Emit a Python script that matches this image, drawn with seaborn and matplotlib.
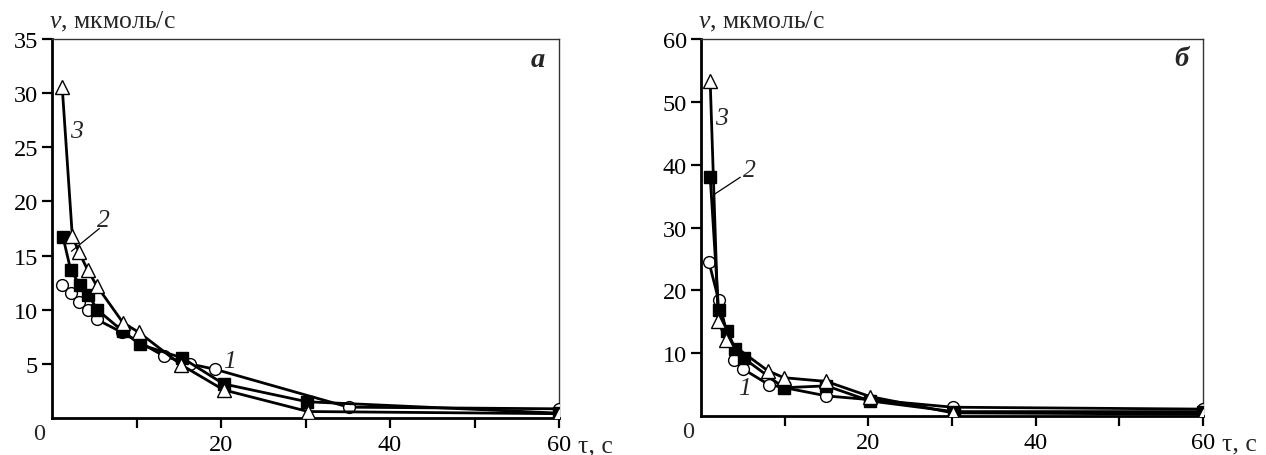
import matplotlib
matplotlib.use("Agg")
import matplotlib.pyplot as plt
import seaborn as sns
import numpy as np

sns.set_theme(style="white")
plt.rcParams["font.family"] = ["Liberation Serif", "DejaVu Serif"]
plt.rcParams["mathtext.fontset"] = "custom"
plt.rcParams["mathtext.rm"] = "Liberation Serif"
plt.rcParams["mathtext.it"] = "Liberation Serif:italic"

# ---- Panel а ----
a_t1 = [1.2, 2.2, 3.2, 4.2, 5.3, 8.3, 13.3, 16.3, 19.3, 35.1, 60]
a_v1 = [12.25, 11.5, 10.7, 10.0, 9.1, 7.9, 5.7, 5.0, 4.5, 1.0, 0.85]
a_t2 = [1.3, 2.2, 3.3, 4.3, 5.35, 8.4, 10.4, 15.4, 20.3, 30.2, 60]
a_v2 = [16.7, 13.7, 12.25, 11.4, 10.0, 8.0, 6.8, 5.55, 3.15, 1.5, 0.45]
a_t3 = [1.2, 2.4, 3.2, 4.2, 5.3, 8.4, 10.3, 15.3, 20.3, 30.3, 60]
a_v3 = [30.6, 16.8, 15.3, 13.7, 12.2, 8.8, 7.9, 4.9, 2.6, 0.6, 0.4]

# ---- Panel б ----
b_t1 = [0.95, 2.1, 3.9, 5.0, 8.1, 15.0, 20.2, 30.1, 60]
b_v1 = [24.5, 18.5, 8.9, 7.5, 5.0, 3.2, 2.6, 1.4, 1.1]
b_t2 = [1.1, 2.1, 3.1, 4.1, 5.1, 9.9, 15.0, 20.2, 30.2, 60]
b_v2 = [38.1, 16.9, 13.6, 10.7, 9.2, 4.5, 4.8, 2.4, 0.7, 0.7]
b_t3 = [1.1, 2.05, 3.0, 8.0, 9.9, 15.0, 20.2, 30.1, 60]
b_v3 = [53.3, 15.1, 12.1, 7.2, 6.1, 5.5, 3.1, 0.5, 0.3]

x_ticks = [10, 20, 30, 40, 50, 60]
x_ticklabels = ["", "20", "", "40", "", "60"]
a_yticks = [5, 10, 15, 20, 25, 30, 35]
b_yticks = [10, 20, 30, 40, 50, 60]

fig = plt.figure(figsize=(12.66, 4.56), dpi=100)
axA = fig.add_axes([0.0411, 0.0811, 0.4005, 0.8311])
axB = fig.add_axes([0.5537, 0.0855, 0.3965, 0.8268])

FS = 17.5
LFS = 18.5
styles = [
    ("o", "white"),
    ("s", "black"),
    ("^", "white"),
]

def draw(ax, series, ymax, yticks, letter):
    for (t, v), (mk, fc) in zip(series, styles):
        sns.lineplot(x=t, y=v, ax=ax, color="black", linewidth=2.0,
                     marker=mk, markersize=8.5 if mk != "^" else 9.5,
                     markerfacecolor=fc, markeredgecolor="black",
                     markeredgewidth=1.0, sort=False, zorder=3)
    ax.set_xlim(0, 60)
    ax.set_ylim(0, ymax)
    ax.set_xticks(x_ticks)
    ax.set_xticklabels(x_ticklabels)
    ax.set_yticks(yticks)
    ax.set_yticklabels([str(y) for y in yticks])
    ax.set_xlabel("")
    ax.set_ylabel("")
    for s in ["left", "bottom"]:
        ax.spines[s].set_linewidth(2.0)
        ax.spines[s].set_color("black")
    for s in ["top", "right"]:
        ax.spines[s].set_linewidth(1.0)
        ax.spines[s].set_color("#333333")
    ax.tick_params(axis="both", which="major", direction="out", length=7,
                   width=1.6, color="black", labelsize=FS, labelcolor="black")
    ax.tick_params(axis="x", pad=4.5)
    ax.tick_params(axis="y", pad=3)
    ax.tick_params(bottom=True, left=True, top=False, right=False)
    ax.grid(False)
    ax.set_facecolor("white")
    ax.text(-0.025, -0.04, "0", transform=ax.transAxes, ha="center", va="center",
            fontsize=FS)
    ax.text(-0.006, 1.015, r"$v$, мкмоль/с", transform=ax.transAxes, ha="left",
            va="bottom", fontsize=LFS)
    ax.text(1.038, -0.072, "τ, с", transform=ax.transAxes, ha="left",
            va="center", fontsize=LFS)
    ax.text(0.958, 0.93, letter, transform=ax.transAxes, ha="center",
            va="baseline", fontsize=LFS + 2, fontweight="bold", fontstyle="italic")

draw(axA, [(a_t1, a_v1), (a_t2, a_v2), (a_t3, a_v3)], 35, a_yticks, "а")
draw(axB, [(b_t1, b_v1), (b_t2, b_v2), (b_t3, b_v3)], 60, b_yticks, "б")

lab = dict(fontsize=LFS, fontstyle="italic", ha="center", va="center")
axA.text(2.9, 26.5, "3", **lab)
axA.text(6.1, 18.3, "2", **lab)
axA.plot([5.6, 2.3], [17.5, 15.4], color="black", linewidth=0.9)
axA.text(21.0, 5.3, "1", **lab)

axB.text(2.5, 47.5, "3", **lab)
axB.text(5.8, 39.2, "2", **lab)
axB.plot([4.7, 1.5], [38.0, 35.2], color="black", linewidth=0.9)
axB.text(5.2, 4.5, "1", **lab)

fig.savefig("out.png", dpi=100, facecolor="white")
